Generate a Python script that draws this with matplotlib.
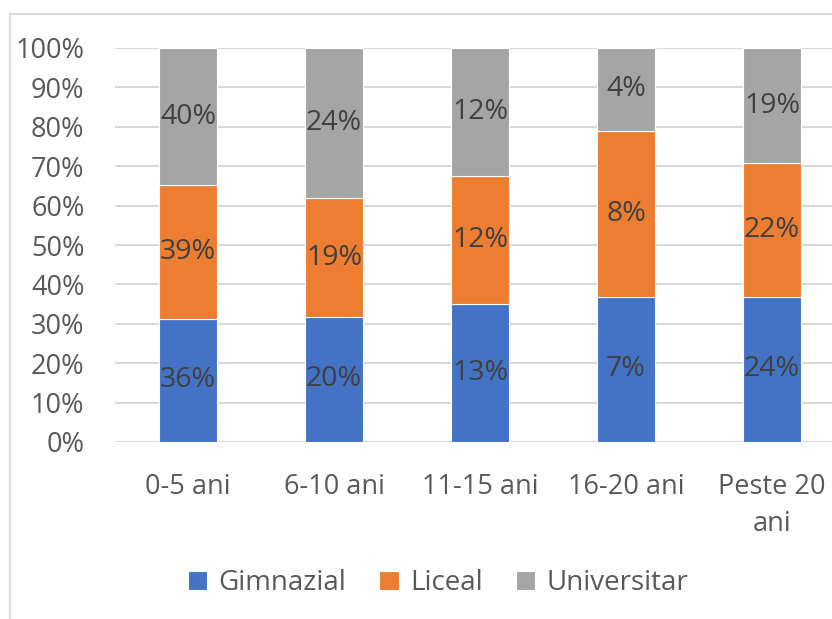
import matplotlib.pyplot as plt
from matplotlib.patches import Rectangle
import numpy as np

categories = ['0-5 ani', '6-10 ani', '11-15 ani', '16-20 ani', 'Peste 20\nani']
gimnazial = [36, 20, 13, 7, 24]
liceal = [39, 19, 12, 8, 22]
universitar = [40, 24, 12, 4, 19]
series_names = ['Gimnazial', 'Liceal', 'Universitar']
colors = ['#4472C4', '#ED7D31', '#A5A5A5']
y_ticks = [0, 10, 20, 30, 40, 50, 60, 70, 80, 90, 100]

plt.rcParams['font.family'] = ['Open Sans', 'DejaVu Sans']

W, H = 832, 619
fig = plt.figure(figsize=(W / 100, H / 100), dpi=100)

# chart border (cut off at the right and bottom)
fig.patches.append(Rectangle((10 / W, -0.1), 1.2, 1 - 14 / H + 0.1,
                             transform=fig.transFigure, fill=False,
                             edgecolor='#D9D9D9', linewidth=1.5))

ax = fig.add_axes([115 / W, 1 - 442 / H, 730 / W, (442 - 48) / H])

data = np.array([gimnazial, liceal, universitar], dtype=float)
totals = data.sum(axis=0)
shares = data / totals * 100
x = np.arange(len(categories))

bottom = np.zeros(len(categories))
for name, raw, share, color in zip(series_names, data, shares, colors):
    bars = ax.bar(x, share, 0.4, bottom=bottom, color=color, label=name,
                  edgecolor='white', linewidth=0.8, zorder=3)
    for b, v in zip(bars, raw):
        ax.text(b.get_x() + b.get_width() / 2, b.get_y() + b.get_height() / 2,
                f'{int(v)}%', ha='center', va='center', fontsize=20.5,
                color='#404040', zorder=4)
    bottom += share

ax.set_xlim(-0.5, 4.5)
ax.set_ylim(0, 100)
ax.set_yticks(y_ticks)
ax.set_yticklabels([f'{t}%' for t in y_ticks])
ax.set_xticks(x)
ax.set_xticklabels(categories, linespacing=1.45)
ax.tick_params(axis='y', length=0, pad=22, labelsize=19.5, labelcolor='#595959')
ax.tick_params(axis='x', length=0, pad=22, labelsize=19.5, labelcolor='#595959')
ax.grid(axis='y', color='#D9D9D9', linewidth=1.5, zorder=0)
for s in ax.spines.values():
    s.set_visible(False)

fig.legend(loc='center', bbox_to_anchor=(438 / W, 1 - 583 / H), ncol=3,
           frameon=False, fontsize=20, handlelength=0.7, handleheight=0.7,
           handletextpad=0.4, columnspacing=1.2, labelcolor='#595959')

fig.savefig('out.png', dpi=100)
